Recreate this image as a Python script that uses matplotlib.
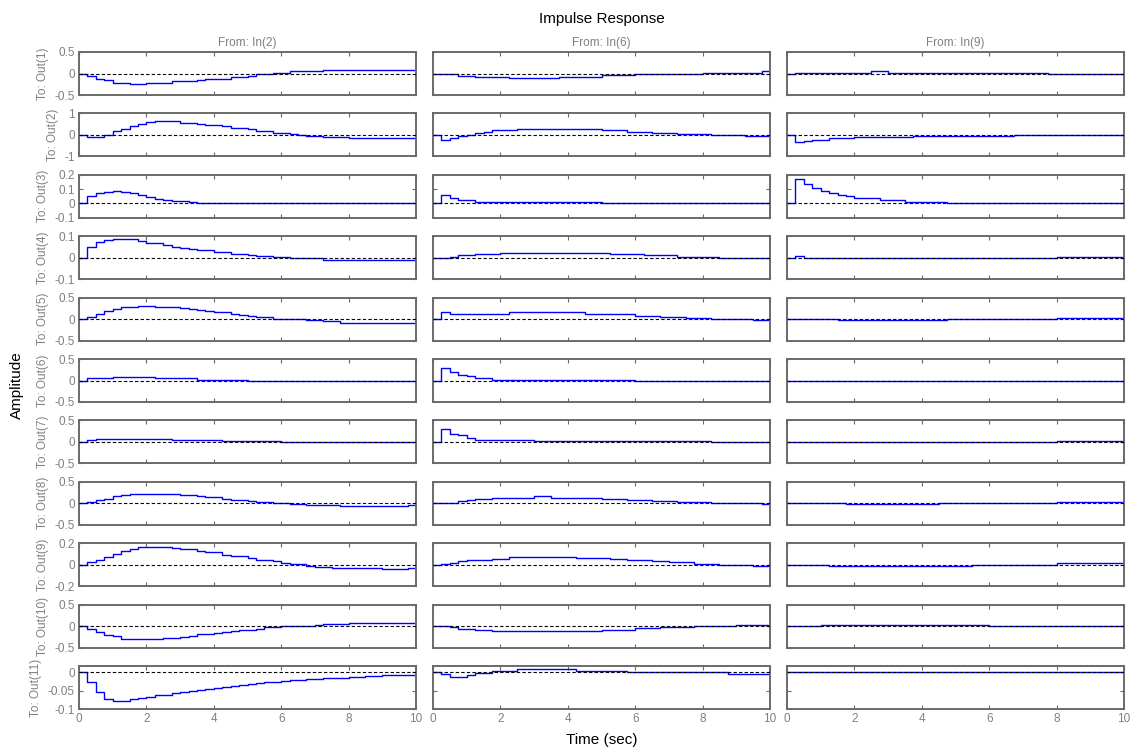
import matplotlib.pyplot as plt

# impulse response values, stored as (start time, level) steps; each level holds until the next start
in_labels = ['In(2)', 'In(6)', 'In(9)']
out_labels = ['Out(%d)' % i for i in range(1, 12)]
t_end = 10

in2_steps = [
    [(0, 0), (0.25, -0.05), (0.5, -0.12), (0.75, -0.16), (1.0, -0.21), (1.5, -0.25), (2.0, -0.22),
     (2.75, -0.18), (3.5, -0.15), (3.75, -0.12), (4.5, -0.08), (5.0, -0.05), (5.25, -0.02),
     (5.75, 0.02), (6.25, 0.05), (7.25, 0.08)],
    [(0, 0), (0.25, -0.11), (0.75, 0.01), (1.0, 0.16), (1.25, 0.28), (1.5, 0.42), (1.75, 0.53),
     (2.0, 0.59), (2.25, 0.65), (3.0, 0.57), (3.5, 0.51), (3.75, 0.47), (4.25, 0.42), (4.5, 0.34),
     (5.0, 0.26), (5.25, 0.17), (5.75, 0.08), (6.25, 0.03), (6.5, 0.0), (6.75, -0.06), (7.25, -0.1),
     (8.0, -0.15)],
    [(0, 0), (0.25, 0.052), (0.5, 0.075), (0.75, 0.082), (1.0, 0.086), (1.25, 0.077), (1.5, 0.07),
     (1.75, 0.057), (2.0, 0.048), (2.25, 0.034), (2.5, 0.025), (2.75, 0.018), (3.0, 0.016),
     (3.25, 0.009), (3.5, 0.001)],
    [(0, 0), (0.25, 0.048), (0.5, 0.072), (0.75, 0.083), (1.0, 0.089), (1.5, 0.085), (1.75, 0.078),
     (2.0, 0.068), (2.5, 0.058), (2.75, 0.052), (3.0, 0.046), (3.25, 0.041), (3.5, 0.034),
     (4.0, 0.028), (4.5, 0.018), (5.0, 0.014), (5.25, 0.006), (5.75, 0.002), (6.25, -0.003),
     (7.25, -0.009)],
    [(0, 0), (0.25, 0.055), (0.5, 0.13), (0.75, 0.2), (1.0, 0.24), (1.25, 0.27), (1.5, 0.28),
     (1.75, 0.3), (2.0, 0.31), (2.25, 0.29), (2.75, 0.27), (3.0, 0.26), (3.25, 0.23), (3.5, 0.21),
     (3.75, 0.19), (4.0, 0.16), (4.5, 0.125), (4.75, 0.1), (5.0, 0.07), (5.25, 0.04), (5.75, 0.008),
     (6.25, -0.008), (6.75, -0.02), (7.25, -0.055), (7.75, -0.086)],
    [(0, 0), (0.25, 0.047), (1.0, 0.078), (2.25, 0.047), (3.5, 0.023), (5.0, 0.0), (7.5, -0.023)],
    [(0, 0), (0.25, 0.04), (0.5, 0.062), (2.75, 0.04), (4.25, 0.016), (6.0, 0.0)],
    [(0, 0), (0.25, 0.024), (0.5, 0.08), (0.75, 0.11), (1.0, 0.16), (1.25, 0.19), (1.5, 0.22),
     (3.0, 0.2), (3.5, 0.165), (3.75, 0.135), (4.25, 0.11), (4.5, 0.08), (5.0, 0.055), (5.25, 0.03),
     (5.75, 0.008), (6.25, -0.016), (6.75, -0.04), (7.75, -0.07), (9.75, -0.04)],
    [(0, 0), (0.25, 0.022), (0.5, 0.044), (0.75, 0.072), (1.0, 0.103), (1.25, 0.125), (1.5, 0.144),
     (1.75, 0.166), (2.75, 0.156), (3.0, 0.144), (3.5, 0.131), (3.75, 0.116), (4.25, 0.094),
     (4.5, 0.078), (5.0, 0.063), (5.25, 0.047), (5.75, 0.031), (6.0, 0.019), (6.25, 0.003),
     (6.75, -0.009), (7.0, -0.019), (7.5, -0.031), (9.0, -0.041), (9.75, -0.028)],
    [(0, 0), (0.25, -0.078), (0.5, -0.13), (0.75, -0.21), (1.0, -0.24), (1.25, -0.3), (2.5, -0.28),
     (3.0, -0.25), (3.25, -0.22), (3.5, -0.19), (4.0, -0.165), (4.25, -0.14), (4.5, -0.12),
     (4.75, -0.095), (5.25, -0.06), (5.5, -0.03), (6.0, -0.008), (6.5, 0.008), (7.0, 0.03),
     (7.25, 0.055), (8.0, 0.078)],
    [(0, 0), (0.25, -0.026), (0.5, -0.053), (0.75, -0.072), (1.0, -0.078), (1.5, -0.074),
     (1.75, -0.07), (2.0, -0.066), (2.25, -0.063), (2.5, -0.061), (2.75, -0.057), (3.0, -0.054),
     (3.25, -0.051), (3.5, -0.048), (3.75, -0.045), (4.0, -0.042), (4.25, -0.039), (4.5, -0.037),
     (4.75, -0.034), (5.0, -0.031), (5.25, -0.028), (5.5, -0.026), (6.0, -0.023), (6.25, -0.02),
     (6.75, -0.017), (7.25, -0.015), (8.0, -0.012), (8.5, -0.01), (9.0, -0.007)],
]

in6_steps = [
    [(0, 0), (0.25, -0.02), (0.75, -0.047), (1.25, -0.07), (2.25, -0.1), (3.75, -0.07),
     (5.0, -0.04), (6.0, -0.02), (7.0, 0.0), (8.0, 0.023), (9.75, 0.05)],
    [(0, 0), (0.25, -0.23), (0.5, -0.14), (0.75, -0.05), (1.0, 0.015), (1.25, 0.076), (1.5, 0.14),
     (1.75, 0.21), (2.5, 0.27), (5.0, 0.21), (5.75, 0.14), (6.5, 0.076), (7.25, 0.03),
     (8.25, -0.015), (9.25, -0.06)],
    [(0, 0), (0.25, 0.057), (0.5, 0.04), (0.75, 0.027), (1.25, 0.01), (5.0, 0.0)],
    [(0, 0), (0.5, 0.005), (0.75, 0.011), (1.25, 0.015), (2.0, 0.022), (5.25, 0.017),
     (6.25, 0.011), (7.25, 0.005), (8.5, 0.0)],
    [(0, 0), (0.25, 0.16), (0.5, 0.13), (0.75, 0.11), (1.25, 0.13), (2.25, 0.17), (4.5, 0.13),
     (5.25, 0.11), (6.0, 0.078), (6.75, 0.047), (7.5, 0.023), (8.25, 0.0), (9.5, -0.023)],
    [(0, 0), (0.25, 0.3), (0.5, 0.19), (0.75, 0.125), (1.0, 0.094), (1.25, 0.062), (1.75, 0.023),
     (6.0, 0.0)],
    [(0, 0), (0.25, 0.29), (0.5, 0.195), (0.75, 0.15), (1.0, 0.094), (1.25, 0.05), (3.0, 0.015),
     (8.25, 0.0)],
    [(0, 0), (0.25, 0.016), (0.75, 0.055), (1.0, 0.086), (1.25, 0.11), (1.75, 0.13), (3.0, 0.16),
     (3.5, 0.13), (5.0, 0.1), (5.75, 0.07), (6.5, 0.047), (7.25, 0.023), (8.25, 0.0), (9.75, -0.023)],
    [(0, 0), (0.25, 0.006), (0.5, 0.019), (0.75, 0.031), (1.0, 0.044), (1.75, 0.056), (2.25, 0.069),
     (4.25, 0.059), (5.25, 0.053), (5.75, 0.044), (6.5, 0.034), (7.0, 0.022), (7.75, 0.009),
     (8.5, 0.0), (9.5, -0.009)],
    [(0, 0), (0.5, -0.023), (0.75, -0.06), (1.25, -0.086), (1.75, -0.11), (5.0, -0.086),
     (6.0, -0.055), (6.75, -0.023), (7.75, 0.0), (9.0, 0.023)],
    [(0, 0), (0.25, -0.0055), (0.5, -0.012), (1.0, -0.008), (1.25, -0.003), (1.75, 0.004),
     (2.5, 0.008), (4.25, 0.0046), (5.75, 0.002), (7.0, 0.0), (8.75, -0.004)],
]

in9_steps = [
    [(0, 0), (0.25, 0.023), (2.5, 0.054), (3.0, 0.023), (7.75, 0.0)],
    [(0, 0), (0.25, -0.33), (0.5, -0.28), (0.75, -0.24), (1.25, -0.16), (2.0, -0.09),
     (3.75, -0.045), (6.75, 0.0)],
    [(0, 0), (0.25, 0.168), (0.5, 0.136), (0.75, 0.106), (1.0, 0.09), (1.25, 0.076), (1.5, 0.062),
     (1.75, 0.051), (2.0, 0.037), (2.75, 0.021), (3.5, 0.009), (4.75, 0.0)],
    [(0, 0), (0.25, 0.006), (0.5, 0.0), (8.0, 0.005)],
    [(0, 0), (1.5, -0.023), (4.75, 0.0), (8.0, 0.023)],
    [(0, 0)],
    [(0, 0), (8.0, 0.023)],
    [(0, 0), (1.75, -0.023), (4.5, 0.0), (8.0, 0.023)],
    [(0, 0), (1.25, -0.009), (5.5, 0.0), (8.0, 0.0125)],
    [(0, 0), (1.0, 0.023), (6.0, 0.0)],
    [(0, 0)],
]

y_limits = [(-0.5, 0.5), (-1, 1), (-0.1, 0.2), (-0.1, 0.1), (-0.5, 0.5), (-0.5, 0.5),
            (-0.5, 0.5), (-0.5, 0.5), (-0.2, 0.2), (-0.5, 0.5), (-0.1, 0.0174)]
y_ticks = [[-0.5, 0, 0.5], [-1, 0, 1], [-0.1, 0, 0.1, 0.2], [-0.1, 0, 0.1], [-0.5, 0, 0.5],
           [-0.5, 0, 0.5], [-0.5, 0, 0.5], [-0.5, 0, 0.5], [-0.2, 0, 0.2], [-0.5, 0, 0.5],
           [-0.1, -0.05, 0]]
y_ticklabels = [['-0.5', '0', '0.5'], ['-1', '0', '1'], ['-0.1', '0', '0.1', '0.2'],
                ['-0.1', '0', '0.1'], ['-0.5', '0', '0.5'], ['-0.5', '0', '0.5'],
                ['-0.5', '0', '0.5'], ['-0.5', '0', '0.5'], ['-0.2', '0', '0.2'],
                ['-0.5', '0', '0.5'], ['-0.1', '-0.05', '0']]
x_ticks = [0, 2, 4, 6, 8, 10]

plt.rcParams['font.family'] = ['Liberation Sans', 'DejaVu Sans']

W, H = 1133, 750
fig = plt.figure(figsize=(W / 100, H / 100), dpi=100)

col_left = [79, 433, 787]
ax_w = 337
ax_h = 43
row_top0 = 52
row_pitch = 61.4
grey = '#808080'
frame = '#6a6a6a'

all_steps = [in2_steps, in6_steps, in9_steps]
for c in range(3):
    for r in range(11):
        top = row_top0 + r * row_pitch
        ax = fig.add_axes([col_left[c] / W, 1 - (top + ax_h) / H, ax_w / W, ax_h / H])
        steps = all_steps[c][r]
        ts = [s[0] for s in steps] + [t_end]
        vs = [s[1] for s in steps] + [steps[-1][1]]
        ax.step(ts, vs, where='post', color='#0000ff', lw=1.0, zorder=2)
        ax.axhline(0, color='k', ls=(0, (3, 2)), lw=0.8, zorder=3)
        ax.set_xlim(0, t_end)
        ax.set_ylim(*y_limits[r])
        ax.set_xticks(x_ticks)
        ax.set_yticks(y_ticks[r])
        ax.tick_params(direction='in', length=3, width=0.8, color=frame, labelcolor=grey,
                       labelsize=8.5, top=True, right=True, pad=3)
        for sp in ax.spines.values():
            sp.set_color(frame)
            sp.set_linewidth(1.4)
        if c == 0:
            ax.set_yticklabels(y_ticklabels[r])
            ax.set_ylabel('To: ' + out_labels[r], color=grey, fontsize=8.5, labelpad=4)
        else:
            ax.set_yticklabels([])
        if r == 10:
            ax.set_xticklabels([str(t) for t in x_ticks])
        else:
            ax.set_xticklabels([])
        if r == 0:
            ax.set_title('From: ' + in_labels[c], color=grey, fontsize=8.5, pad=4)

fig.text(602 / W, 1 - 19 / H, 'Impulse Response', ha='center', va='center', fontsize=11)
fig.text(602 / W, 1 - 740 / H, 'Time (sec)', ha='center', va='center', fontsize=11)
fig.text(17 / W, 1 - 385 / H, 'Amplitude', ha='center', va='center', rotation=90, fontsize=11)

fig.savefig('out.png', dpi=100)
